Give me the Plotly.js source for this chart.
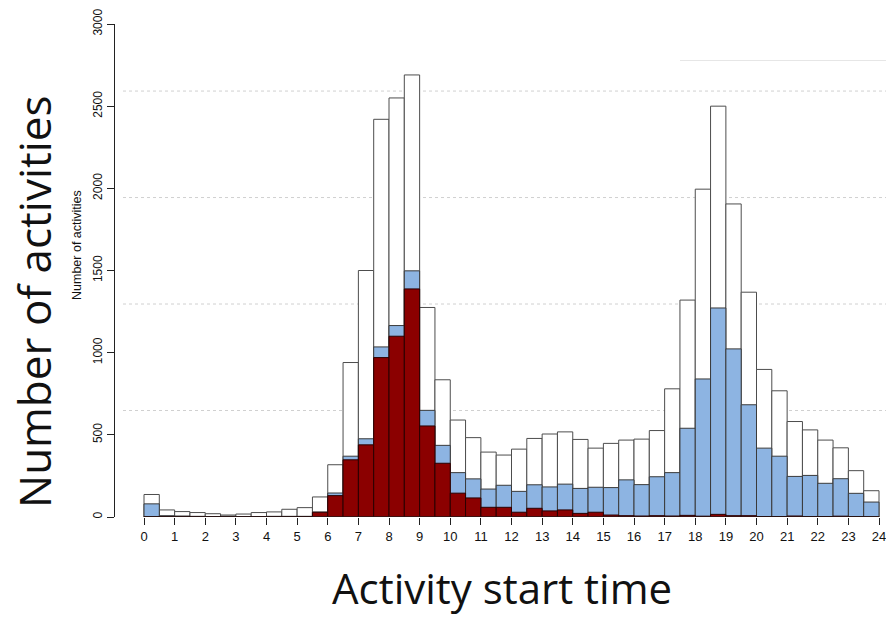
<!DOCTYPE html>
<html>
<head>
<meta charset="utf-8">
<script src="https://cdn.plot.ly/plotly-3.0.1.min.js"></script>
<style>html,body{margin:0;padding:0;background:#fff}#chart{width:886px;height:618px}</style>
</head>
<body>
<div id="chart"></div>
<script>
// Half-hour bins: start hour of each bin
const binStart = [0,0.5,1,1.5,2,2.5,3,3.5,4,4.5,5,5.5,6,6.5,7,7.5,8,8.5,9,9.5,10,10.5,11,11.5,
  12,12.5,13,13.5,14,14.5,15,15.5,16,16.5,17,17.5,18,18.5,19,19.5,20,20.5,21,21.5,22,22.5,23,23.5];
// All activities (white bars)
const totalCounts = [137,43,33,27,20,12,18,27,31,47,57,122,318,940,1500,2420,2550,2690,1275,835,590,483,395,377,
  413,478,505,518,472,419,448,468,474,526,780,1320,1995,2500,1905,1368,898,768,581,530,468,421,282,160];
// Subset (blue bars)
const blueCounts = [80,8,6,4,3,5,3,3,4,4,4,30,146,370,476,1035,1165,1498,649,436,270,232,170,193,
  156,196,183,200,174,181,179,226,197,245,270,540,840,1272,1023,683,419,370,247,253,205,233,144,91];
// Subset (dark red bars)
const redCounts = [2,2,2,1,1,1,1,1,1,1,2,29,130,348,439,970,1100,1388,554,327,145,116,59,59,
  29,53,37,43,22,29,12,8,6,8,6,10,5,16,8,8,3,3,6,3,3,5,2,1];
const xTicks = [0,1,2,3,4,5,6,7,8,9,10,11,12,13,14,15,16,17,18,19,20,21,22,23,24];
const yTicks = [0,500,1000,1500,2000,2500,3000];
const gridVals = [648,1296,1944,2592];

const W = 886, H = 618, L = 115, R = 0, T = 24, B = 101;
const pw = W - L - R, ph = H - T - B;
const pxPerHour = 30.625, x0px = 144;
const xr = [(L - x0px) / pxPerHour, (W - R - x0px) / pxPerHour];
const px2paperX = p => (p - L) / pw;
const py2paperY = p => (H - B - p) / ph;

function barTrace(y, fill, line) {
  return {type: 'bar', x: binStart, y: y, width: 0.5, offset: 0,
    marker: {color: fill, line: {color: line, width: 1}}, hoverinfo: 'skip'};
}
const data = [
  barTrace(totalCounts, '#ffffff', '#4d4d4d'),
  barTrace(blueCounts, '#8db4e2', '#3a3a3a'),
  barTrace(redCounts, '#8b0000', '#2a0000')
];

const shapes = gridVals.map(v => ({type: 'line', layer: 'below', xref: 'paper', yref: 'y',
  x0: px2paperX(123), x1: 1, y0: v, y1: v, line: {color: '#d0d0d0', width: 1, dash: 'dot'}}));
shapes.push({type: 'line', layer: 'below', xref: 'paper', yref: 'paper',
  x0: px2paperX(680), x1: 1, y0: py2paperY(60.5), y1: py2paperY(60.5), line: {color: '#e6e6e6', width: 1}});
shapes.push({type: 'line', layer: 'above', xref: 'x', yref: 'y', x0: 0, x1: 24, y0: 0, y1: 0,
  line: {color: '#222', width: 1}});

const layout = {
  width: W, height: H, margin: {l: L, r: R, t: T, b: B, pad: 0},
  paper_bgcolor: '#fff', plot_bgcolor: 'rgba(0,0,0,0)',
  barmode: 'overlay', bargap: 0, showlegend: false, hovermode: false,
  font: {family: 'Liberation Sans, Arial, sans-serif', color: '#000'},
  xaxis: {range: xr, tickmode: 'array', tickvals: xTicks, ticktext: xTicks.map(String),
    ticks: 'outside', ticklen: 7, tickcolor: '#222', tickwidth: 1, showline: false, showgrid: false,
    ticklabeloverflow: 'allow',
    zeroline: false, tickfont: {size: 13, family: 'Liberation Sans, Arial, sans-serif', color: '#111'}, fixedrange: true},
  yaxis: {range: [0, 3000], tickmode: 'array', tickvals: yTicks, ticktext: yTicks.map(String),
    ticks: 'outside', ticklen: 7, tickcolor: '#222', tickwidth: 1, tickangle: -90,
    showline: true, linecolor: '#222', linewidth: 1, showgrid: false, zeroline: false,
    tickfont: {size: 12, family: 'Liberation Sans, Arial, sans-serif', color: '#111'}, fixedrange: true},
  shapes: shapes,
  annotations: [
    {text: 'Number of activities', xref: 'paper', yref: 'paper', x: px2paperX(77), y: py2paperY(245),
      textangle: -90, showarrow: false, xanchor: 'center', yanchor: 'middle',
      font: {size: 12.5, family: 'Liberation Sans, Arial, sans-serif', color: '#111'}},
    {text: 'Number of activities', xref: 'paper', yref: 'paper', x: px2paperX(34), y: py2paperY(302),
      textangle: -90, showarrow: false, xanchor: 'center', yanchor: 'middle',
      font: {size: 44, family: 'Open Sans, Noto Sans, sans-serif', color: '#111'}},
    {text: 'Activity start time', xref: 'paper', yref: 'paper', x: px2paperX(502), y: py2paperY(587),
      showarrow: false, xanchor: 'center', yanchor: 'middle',
      font: {size: 42, family: 'Open Sans, Noto Sans, sans-serif', color: '#111'}}
  ]
};
Plotly.newPlot('chart', data, layout, {staticPlot: true, displayModeBar: false});
</script>
</body>
</html>
